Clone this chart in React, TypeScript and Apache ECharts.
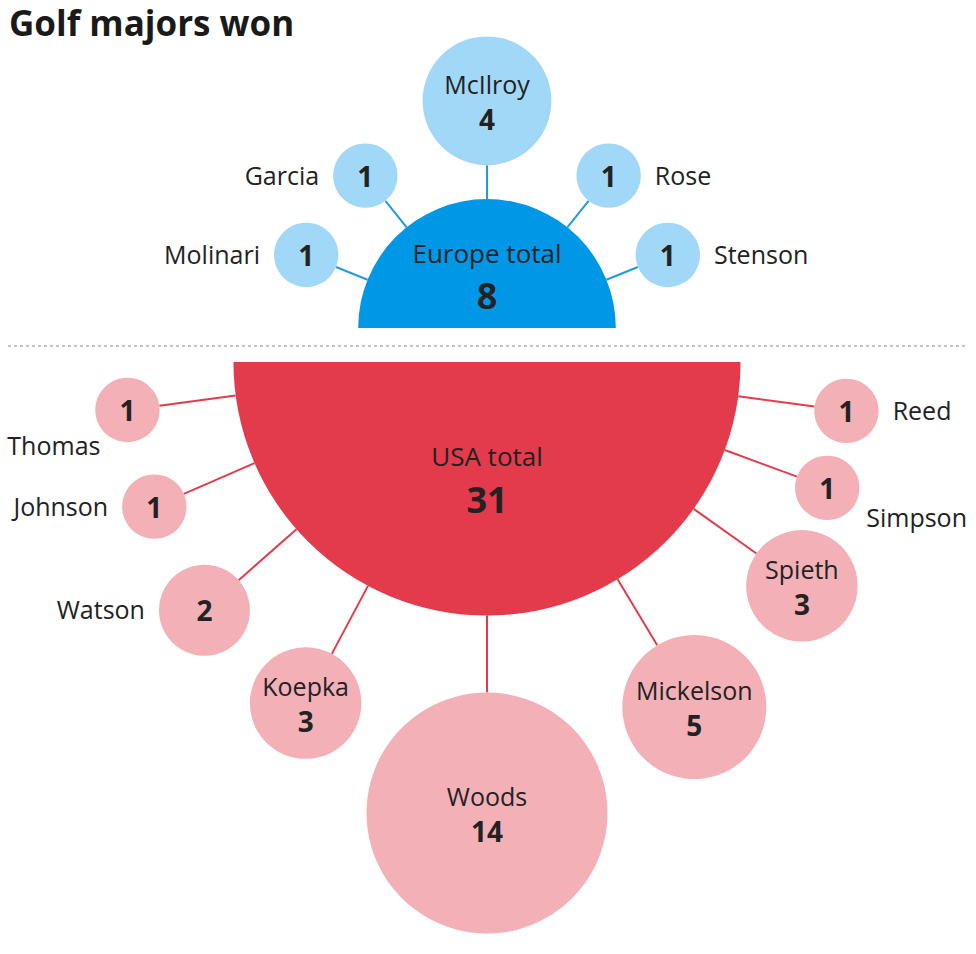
import React, { useEffect, useRef } from "react";
import * as echarts from "echarts";

// ---- data ----
const titleText = "Golf majors won";
const europeTotalLabel = "Europe total";
const usaTotalLabel = "USA total";
const europePlayers = ["Molinari", "Garcia", "McIlroy", "Rose", "Stenson"];
const europeWins = [1, 1, 4, 1, 1];
const usaPlayers = ["Thomas", "Johnson", "Watson", "Koepka", "Woods", "Mickelson", "Spieth", "Simpson", "Reed"];
const usaWins = [1, 1, 2, 3, 14, 5, 3, 1, 1];

// ---- layout ----
const W = 976;
const H = 954;
const K = 32.2; // px radius per sqrt(win)
const FONT = "'Open Sans', 'Noto Sans', sans-serif";
const TEXT = "#222222";

const europeLayout = {
  cx: 487, cy: 328, dir: -1, gap: 34,
  angles: [22, 51.4, 90, 128.6, 158],
  labelPos: ["left", "left", "inside", "right", "right"],
  main: "#0098e6", light: "#a2d8f7", line: "#1e9be2",
  titleDy: -75, numDy: -33,
};
const usaLayout = {
  cx: 487, cy: 362, dir: 1, gap: 77,
  angles: [7.6, 23.5, 41.3, 62, 90, 121, 144.6, 159.7, 172.25],
  labelPos: ["bottomLeft", "left", "left", "inside", "inside", "inside", "inside", "bottomRight", "right"],
  main: "#e33b4c", light: "#f3b0b7", line: "#e33b4c",
  titleDy: 94, numDy: 137,
};

function buildGroup(names: string[], wins: number[], L: any, totalLabel: string) {
  const total = wins.reduce((a, b) => a + b, 0);
  const R = K * Math.sqrt(2 * total);
  const bubbles = names.map((n, i) => {
    const r = K * Math.sqrt(wins[i]);
    const t = (L.angles[i] * Math.PI) / 180;
    const d = R + L.gap + r;
    const cos = -Math.cos(t);
    const sin = L.dir * Math.sin(t);
    return {
      value: [L.cx + d * cos, L.cy + d * sin, r,
        L.cx + R * cos, L.cy + R * sin,
        L.cx + (R + L.gap) * cos, L.cy + (R + L.gap) * sin, i],
    };
  });
  const semi = [{ value: [L.cx, L.cy, R, total] }];

  const semiSeries = {
    type: "custom",
    coordinateSystem: "cartesian2d",
    silent: true,
    z: 3,
    data: semi,
    renderItem: (params: any, api: any) => {
      const c = api.coord([api.value(0), api.value(1)]);
      const rp = api.size([api.value(2), 0])[0];
      const start = L.dir < 0 ? Math.PI : 0;
      return {
        type: "group",
        children: [
          {
            type: "sector",
            shape: { cx: c[0], cy: c[1], r: rp, r0: 0, startAngle: start, endAngle: start + Math.PI, clockwise: true },
            style: { fill: L.main },
          },
          {
            type: "text",
            x: c[0], y: c[1] + L.titleDy,
            style: { text: totalLabel, fill: TEXT, fontFamily: FONT, fontSize: 26, fontWeight: 400, align: "center", verticalAlign: "middle" },
          },
          {
            type: "text",
            x: c[0], y: c[1] + L.numDy,
            style: { text: String(api.value(3)), fill: TEXT, fontFamily: FONT, fontSize: 36, fontWeight: 700, align: "center", verticalAlign: "middle" },
          },
        ],
      };
    },
  };

  const bubbleSeries = {
    type: "custom",
    coordinateSystem: "cartesian2d",
    silent: true,
    z: 2,
    data: bubbles,
    renderItem: (params: any, api: any) => {
      const i = api.value(7);
      const c = api.coord([api.value(0), api.value(1)]);
      const rp = api.size([api.value(2), 0])[0];
      const a = api.coord([api.value(3), api.value(4)]);
      const b = api.coord([api.value(5), api.value(6)]);
      const pos = L.labelPos[i];
      const children: any[] = [
        { type: "line", shape: { x1: a[0], y1: a[1], x2: b[0], y2: b[1] }, style: { stroke: L.line, lineWidth: 2 } },
        { type: "circle", shape: { cx: c[0], cy: c[1], r: rp }, style: { fill: L.light } },
      ];
      const nameStyle = { text: names[i], fill: TEXT, fontFamily: FONT, fontSize: 25, fontWeight: 400, verticalAlign: "middle" };
      const numStyle = { text: String(wins[i]), fill: TEXT, fontFamily: FONT, fontSize: 28, fontWeight: 700, align: "center", verticalAlign: "middle" };
      if (pos === "inside") {
        children.push({ type: "text", x: c[0], y: c[1] - 17, style: { ...nameStyle, align: "center" } });
        children.push({ type: "text", x: c[0], y: c[1] + 18, style: numStyle });
      } else {
        children.push({ type: "text", x: c[0], y: c[1] + 0, style: numStyle });
        let tx = c[0], ty = c[1] - 1, al = "left";
        if (pos === "left") { tx = c[0] - rp - 14; al = "right"; }
        else if (pos === "right") { tx = c[0] + rp + 14; al = "left"; }
        else if (pos === "bottomLeft") { tx = c[0] - 27; ty = c[1] + 35; al = "right"; }
        else if (pos === "bottomRight") { tx = c[0] + 39; ty = c[1] + 29; al = "left"; }
        children.push({ type: "text", x: tx, y: ty, style: { ...nameStyle, align: al } });
      }
      return { type: "group", children };
    },
  };
  return [bubbleSeries, semiSeries];
}

export default function App() {
  const ref = useRef<HTMLDivElement>(null);
  useEffect(() => {
    if (!ref.current) return;
    const chart = echarts.init(ref.current, null, { renderer: "svg" });
    chart.setOption({
      animation: false,
      backgroundColor: "#ffffff",
      title: {
        text: titleText,
        left: 4,
        top: 1,
        padding: [0, 5, 0, 5],
        textStyle: { fontFamily: FONT, fontSize: 35, fontWeight: 700, color: "#1a1a1a", lineHeight: 42 },
      },
      grid: { left: 0, right: 0, top: 0, bottom: 0 },
      xAxis: { type: "value", min: 0, max: W, show: false },
      yAxis: { type: "value", min: 0, max: H, inverse: true, show: false },
      graphic: [
        {
          type: "line",
          shape: { x1: 8, y1: 346, x2: 966, y2: 346 },
          style: { stroke: "#8a8a8a", lineWidth: 1, lineDash: [3, 3] },
          z: 1,
        },
      ],
      series: [
        ...buildGroup(europePlayers, europeWins, europeLayout, europeTotalLabel),
        ...buildGroup(usaPlayers, usaWins, usaLayout, usaTotalLabel),
      ],
    });
    return () => chart.dispose();
  }, []);
  return <div ref={ref} style={{ position: "absolute", left: 0, top: 0, width: W, height: H }} />;
}
